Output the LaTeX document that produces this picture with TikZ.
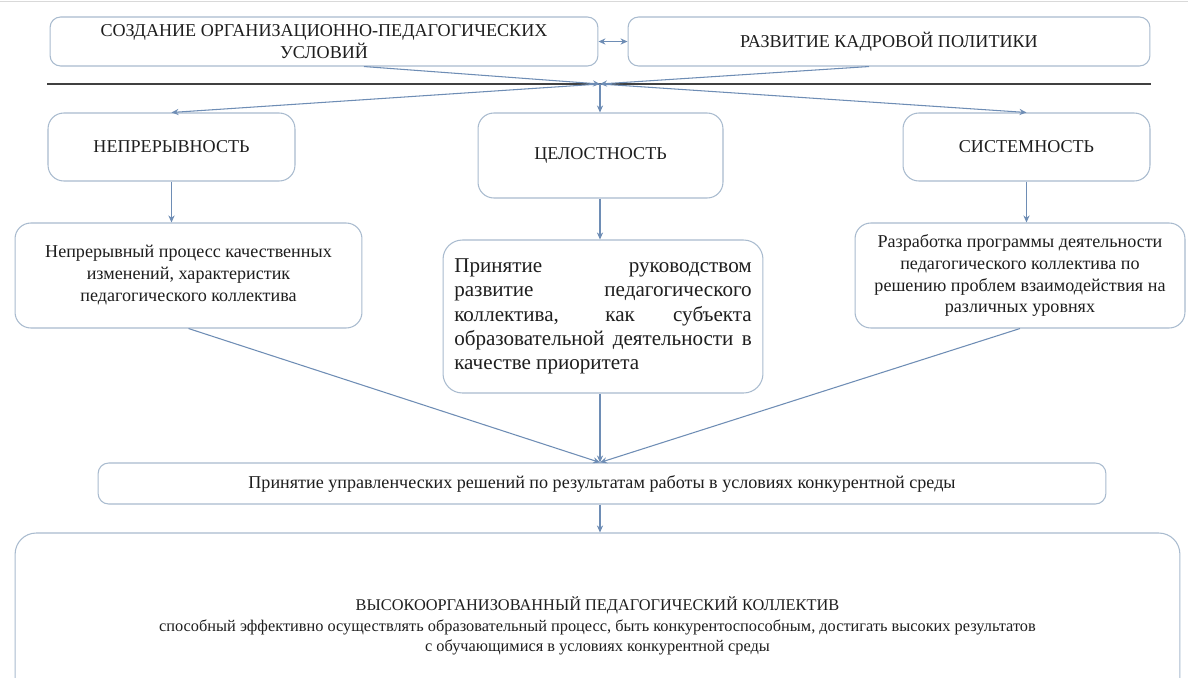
\documentclass[tikz,border=0pt]{standalone}
\usepackage{fontspec}
\setmainfont{LiberationSerif}[Extension=.ttf, UprightFont=*-Regular, BoldFont=*-Bold, ItalicFont=*-Italic, BoldItalicFont=*-BoldItalic]
\usepackage{tikz}
\usetikzlibrary{positioning, arrows.meta}
\definecolor{boxline}{HTML}{A9BBCF}
\definecolor{conline}{HTML}{6E8DB5}
\definecolor{txt}{HTML}{1E1E1E}
\tikzset{
    >={Stealth[length=4pt,width=3.5pt]}, % small pointed heads
    box/.style={draw=boxline, line width=0.6pt, rounded corners=6pt, align=center, text=txt, font=\fontsize{10.3}{12.5}\selectfont, inner sep=2pt}, % every frame
    conn/.style={->, draw=conline, line width=0.6pt}, % connectors between frames
    bar/.style={draw=black!75, line width=1.2pt}, % the dividing rule
    }

\begin{document}
\begin{tikzpicture}[x=0.02cm, y=-0.02cm]
            \path[fill=white, use as bounding box] (0,0) rectangle (1188,677);
            \draw[black!15, line width=0.8pt] (0,1.5) -- (1188,1.5);
            \node[box, minimum width=10.96cm, minimum height=0.98cm] (org) at (324,41.5) {СОЗДАНИЕ ОРГАНИЗАЦИОННО-ПЕДАГОГИЧЕСКИХ\\УСЛОВИЙ};
            \node[box, minimum width=10.44cm, minimum height=0.98cm] (kadr) at (889,41.5) {РАЗВИТИЕ КАДРОВОЙ ПОЛИТИКИ};
            \node[box, rounded corners=9pt, minimum width=4.94cm, minimum height=1.36cm] (nepr) at (171.5,147) {НЕПРЕРЫВНОСТЬ};
            \node[box, rounded corners=9pt, minimum width=4.9cm, minimum height=1.7cm] (celo) at (600.5,155.5) {ЦЕЛОСТНОСТЬ};
            \node[box, rounded corners=9pt, minimum width=4.94cm, minimum height=1.36cm] (sist) at (1026.5,147) {СИСТЕМНОСТЬ};
            \node[box, rounded corners=9pt, minimum width=6.94cm, minimum height=2.1cm] (neprD) at (188.5,275.5) {Непрерывный процесс качественных\\изменений, характеристик\\педагогического коллектива};
            \node[box, rounded corners=11pt, minimum width=6.4cm, minimum height=3.06cm, text width=5.95cm, align=justify, font=\fontsize{12}{13.8}\selectfont] (celoD) at (603,316.5) {Принятие руководством\linebreak развитие педагогического\linebreak коллектива, как субъекта\linebreak образовательной деятельности в\linebreak качестве приоритета};
            \node[box, rounded corners=9pt, minimum width=6.6cm, minimum height=2.1cm] (sistD) at (1020,275.5) {Разработка программы деятельности\\педагогического коллектива по\\решению проблем взаимодействия на\\различных уровнях};
            \node[box, minimum width=20.16cm, minimum height=0.82cm] (resh) at (602,483.5) {Принятие управленческих решений по результатам работы в условиях конкурентной среды};
            \node[box, rounded corners=12pt, minimum width=23.3cm, minimum height=3.72cm, font=\fontsize{9.3}{11.6}\selectfont] (itog) at (597.5,626) {ВЫСОКООРГАНИЗОВАННЫЙ ПЕДАГОГИЧЕСКИЙ КОЛЛЕКТИВ\\способный эффективно осуществлять образовательный процесс, быть конкурентоспособным, достигать высоких результатов\\с обучающимися в условиях конкурентной среды};
            \coordinate (hub) at (600,84);
            \draw[bar] (nepr.west |- hub) -- (sist.east |- hub);
            \draw[conn, <->] (org) -- (kadr);
            \draw[conn] ([xshift=0.8cm]org.south) -- (hub);
            \draw[conn] ([xshift=-0.4cm]kadr.south) -- (hub);
            \draw[conn] (hub) -- (nepr.north);
            \draw[conn] (hub) -- (celo.north -| hub);
            \draw[conn] (hub) -- (sist.north);
            \draw[conn] (nepr.south) -- (nepr.south |- neprD.north);
            \draw[conn] (celo.south -| hub) -- (hub |- celoD.north);
            \draw[conn] (sist.south) -- (sist.south |- sistD.north);
            \draw[conn] (neprD.south) -- (resh.north -| hub);
            \draw[conn] (celoD.south -| hub) -- (resh.north -| hub);
            \draw[conn] (sistD.south) -- (resh.north -| hub);
            \draw[conn] (resh.south -| hub) -- (itog.north -| hub);
\end{tikzpicture}
\end{document}
